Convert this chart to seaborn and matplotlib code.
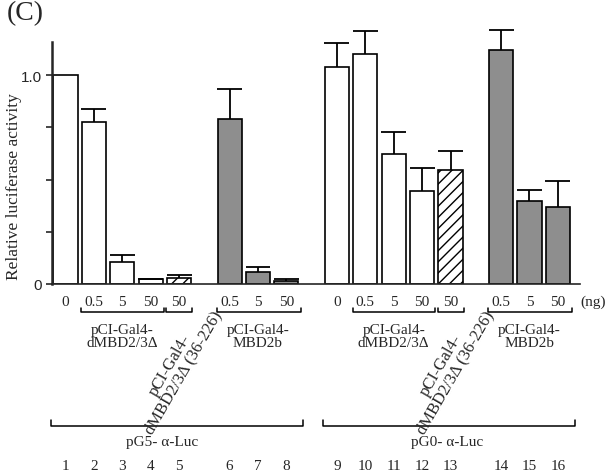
import numpy as np
import pandas as pd
import matplotlib.pyplot as plt
import matplotlib.transforms as mtransforms
import seaborn as sns

# %% Data
lanes = [str(i) for i in range(1, 17)]
doses = ["0", "0.5", "5", "50", "50", "0.5", "5", "50",
         "0", "0.5", "5", "50", "50", "0.5", "5", "50"]
construct = ["open", "open", "open", "open", "hatch", "grey", "grey", "grey",
             "open", "open", "open", "open", "hatch", "grey", "grey", "grey"]
activity = [1.00, 0.774, 0.104, 0.022, 0.027, 0.790, 0.059, 0.016,
            1.040, 1.100, 0.620, 0.443, 0.544, 1.118, 0.399, 0.370]
error = [0.0, 0.063, 0.036, 0.004, 0.018, 0.143, 0.024, 0.010,
         0.115, 0.110, 0.107, 0.112, 0.094, 0.097, 0.053, 0.125]
group_sizes = [5, 3, 5, 3]
construct_labels = ["pCI-Gal4-\ndMBD2/3\u0394", "pCI-Gal4-\nMBD2b",
                    "pCI-Gal4-\ndMBD2/3\u0394", "pCI-Gal4-\nMBD2b"]
rotated_label = "pCI-Gal4-\ndMBD2/3\u0394 (36-226)"
reporters = ["pG5- \u03b1-Luc", "pG0- \u03b1-Luc"]

# %% Layout: bars in groups with wider gaps between groups
pos = []
x = 0.0
for n in group_sizes:
    for k in range(n):
        pos.append(x)
        x += 1
    x += 0.78
pos = np.array(pos)

df = pd.DataFrame({"pos": pos, "activity": activity, "construct": construct})

sns.set_style("ticks")
plt.rcParams["font.family"] = ["Liberation Serif", "DejaVu Serif"]
plt.rcParams["hatch.linewidth"] = 1.0

W, H = 608, 477
fig = plt.figure(figsize=(W / 100, H / 100), dpi=100)
ax = fig.add_axes([52 / W, 1 - 285 / H, 528 / W, 265.4 / H])

sns.barplot(data=df, x="pos", y="activity", hue="construct", native_scale=True,
            palette={"open": "white", "hatch": "white", "grey": "#8e8e8e"},
            width=0.85, dodge=False, edgecolor="black", linewidth=1.2,
            legend=False, errorbar=None, ax=ax)

for p in ax.patches:
    cx = p.get_x() + p.get_width() / 2
    i = int(np.argmin(np.abs(pos - cx)))
    if construct[i] == "hatch":
        p.set_hatch("///")

# one-sided error bars
err_top = np.array(activity) + np.array(error)
has_err = np.array(error) > 0
ax.vlines(pos[has_err], np.array(activity)[has_err], err_top[has_err],
          color="black", lw=1.3)
ax.hlines(err_top[has_err], pos[has_err] - 0.44, pos[has_err] + 0.44,
          color="black", lw=1.3)

ax.set_xlim(-0.475, 18.12)
ax.set_ylim(0, 1.27)
ax.set_xticks([])
ax.set_xlabel("")
ax.set_ylabel("")
ax.set_yticks([0, 0.25, 0.5, 0.75, 1.0])
ax.set_yticklabels(["0", "", "", "", "1.0"], fontfamily="Liberation Sans", fontsize=11)
ax.tick_params(axis="y", direction="out", length=4, width=1.2, pad=3)
sns.despine(ax=ax)
ax.spines["left"].set_bounds(0, 1.16)
ax.spines["left"].set_linewidth(1.8)
ax.spines["bottom"].set_linewidth(1.2)

# %% Annotations below the axis
tr = mtransforms.blended_transform_factory(ax.transData, fig.transFigure)


def fy(py):
    return 1 - py / H


fs = 11
for i in range(16):
    ax.text(pos[i], fy(303), doses[i], transform=tr, ha="center", va="center", fontsize=fs)
    ax.text(pos[i], fy(467), lanes[i], transform=tr, ha="center", va="center", fontsize=fs)
fig.text(593 / W, fy(302), "(ng)", ha="center", va="center", fontsize=fs)


def bracket(x0, x1, py, tick):
    ax.plot([x0, x0, x1, x1], [fy(py - tick), fy(py), fy(py), fy(py - tick)],
             transform=tr, color="black", lw=1.1, clip_on=False)


# small brackets under dose groups
start = 0
for gi, n in enumerate(group_sizes):
    idx = list(range(start, start + n))
    if n == 5:
        bracket(pos[idx[1]] - 0.45, pos[idx[3]] + 0.47, 313, 4)
        bracket(pos[idx[4]] - 0.45, pos[idx[4]] + 0.47, 313, 4)
        ax.text(pos[idx[2]], fy(337), construct_labels[gi], transform=tr,
                ha="center", va="center", fontsize=fs, linespacing=1.0)
        ax.text(pos[idx[4]] - 0.08, fy(369), rotated_label, transform=tr,
                ha="center", va="center", rotation=60, rotation_mode="anchor",
                multialignment="center", fontsize=12, linespacing=1.0)
    else:
        bracket(pos[idx[0]] - 0.45, pos[idx[-1]] + 0.5, 313, 4)
        ax.text(pos[idx[1]], fy(337), construct_labels[gi], transform=tr,
                ha="center", va="center", fontsize=fs, linespacing=1.0)
    start += n

# reporter brackets
label_nudge = [-0.4, 0.1]
for r in range(2):
    p = pos[r * 8:(r + 1) * 8]
    bracket(p[0] - 0.5, p[-1] + 0.6, 427, 6)
    ax.text(p.mean() + label_nudge[r], fy(443), reporters[r], transform=tr,
            ha="center", va="center", fontsize=fs)

fig.text(14 / W, fy(187), "Relative luciferase activity", rotation=90,
         ha="center", va="center", fontsize=12.5)
fig.text(25 / W, fy(14), "(C)", ha="center", va="center", fontsize=20)

fig.savefig("out.png", dpi=100)
